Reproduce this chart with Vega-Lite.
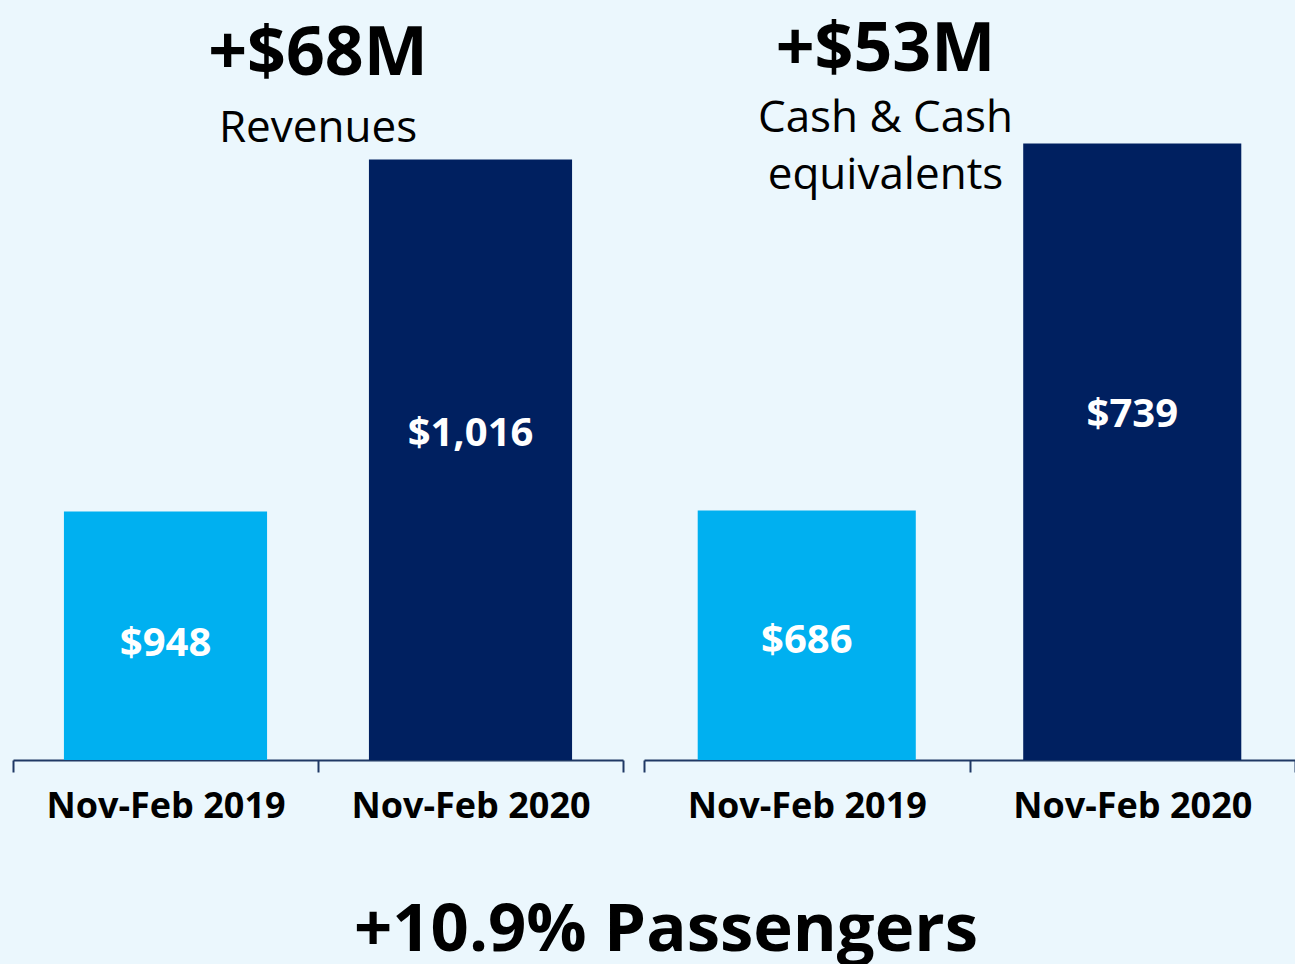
{
  "$schema": "https://vega.github.io/schema/vega-lite/v6.json",
  "background": "#EBF7FD",
  "padding": {"left": 12, "top": 0, "right": 0, "bottom": 0},
  "datasets": {
    "revenue": [
      {"period": "Nov-Feb 2019", "value": 948},
      {"period": "Nov-Feb 2020", "value": 1016}
    ],
    "cash": [
      {"period": "Nov-Feb 2019", "value": 686},
      {"period": "Nov-Feb 2020", "value": 739}
    ]
  },
  "title": {
    "text": "+10.9% Passengers",
    "orient": "bottom",
    "anchor": "middle",
    "offset": 74,
    "dx": 12,
    "fontSize": 67,
    "font": "Open Sans",
    "fontWeight": "bold",
    "color": "#000000",
    "baseline": "top"
  },
  "spacing": 19,
  "config": {
    "view": {"stroke": null},
    "axis": {
      "domainColor": "#1F3864",
      "domainWidth": 2,
      "tickColor": "#1F3864",
      "tickWidth": 2,
      "tickSize": 12,
      "tickBand": "extent",
      "labelFont": "Open Sans",
      "labelFontWeight": "bold",
      "labelFontSize": 36,
      "labelColor": "#000000",
      "labelPadding": 17,
      "labelLimit": 500,
      "labelAngle": 0,
      "title": null,
      "grid": false
    }
  },
  "hconcat": [
    {
      "width": 610,
      "height": 760,
      "data": {"name": "revenue"},
      "title": {
        "text": "+$68M",
        "subtitle": "Revenues",
        "anchor": "middle",
        "offset": -151,
        "font": "Open Sans",
        "fontWeight": "bold",
        "fontSize": 68,
        "color": "#000000",
        "subtitleFont": "Open Sans",
        "subtitleFontSize": 44,
        "subtitleColor": "#000000",
        "subtitlePadding": 18
      },
      "encoding": {
        "x": {
          "field": "period",
          "type": "nominal",
          "sort": null,
          "scale": {"paddingInner": 0, "paddingOuter": 0},
          "axis": {}
        },
        "y": {
          "field": "value",
          "type": "quantitative",
          "scale": {"domain": [900, 1046.8], "zero": false, "nice": false, "clamp": true},
          "axis": null
        }
      },
      "layer": [
        {
          "mark": {"type": "bar", "width": {"band": 0.666}},
          "encoding": {
            "color": {
              "field": "period",
              "type": "nominal",
              "scale": {"domain": ["Nov-Feb 2019", "Nov-Feb 2020"], "range": ["#00B0F0", "#002060"]},
              "legend": null
            }
          }
        },
        {
          "transform": [{"filter": "datum.period === 'Nov-Feb 2019'"}],
          "mark": {"type": "text", "dy": 133, "font": "Open Sans", "fontWeight": "bold", "fontSize": 40, "color": "#FFFFFF", "baseline": "middle"},
          "encoding": {"text": {"field": "value", "type": "quantitative", "format": "$,.0f"}}
        },
        {
          "transform": [{"filter": "datum.period === 'Nov-Feb 2020'"}],
          "mark": {"type": "text", "dy": 275, "font": "Open Sans", "fontWeight": "bold", "fontSize": 40, "color": "#FFFFFF", "baseline": "middle"},
          "encoding": {"text": {"field": "value", "type": "quantitative", "format": "$,.0f"}}
        }
      ]
    },
    {
      "width": 651,
      "height": 760,
      "data": {"name": "cash"},
      "title": {
        "text": "+$53M",
        "subtitle": ["Cash & Cash", "equivalents"],
        "anchor": "middle",
        "offset": -198,
        "dx": -84,
        "font": "Open Sans",
        "fontWeight": "bold",
        "fontSize": 68,
        "color": "#000000",
        "subtitleFont": "Open Sans",
        "subtitleFontSize": 44,
        "subtitleLineHeight": 57,
        "subtitleColor": "#000000",
        "subtitlePadding": 12
      },
      "encoding": {
        "x": {
          "field": "period",
          "type": "nominal",
          "sort": null,
          "scale": {"paddingInner": 0, "paddingOuter": 0},
          "axis": {}
        },
        "y": {
          "field": "value",
          "type": "quantitative",
          "scale": {"domain": [650, 759.7], "zero": false, "nice": false, "clamp": true},
          "axis": null
        }
      },
      "layer": [
        {
          "mark": {"type": "bar", "width": {"band": 0.67}},
          "encoding": {
            "color": {
              "field": "period",
              "type": "nominal",
              "scale": {"domain": ["Nov-Feb 2019", "Nov-Feb 2020"], "range": ["#00B0F0", "#002060"]},
              "legend": null
            }
          }
        },
        {
          "transform": [{"filter": "datum.period === 'Nov-Feb 2019'"}],
          "mark": {"type": "text", "dy": 130, "font": "Open Sans", "fontWeight": "bold", "fontSize": 40, "color": "#FFFFFF", "baseline": "middle"},
          "encoding": {"text": {"field": "value", "type": "quantitative", "format": "$,.0f"}}
        },
        {
          "transform": [{"filter": "datum.period === 'Nov-Feb 2020'"}],
          "mark": {"type": "text", "dy": 272, "font": "Open Sans", "fontWeight": "bold", "fontSize": 40, "color": "#FFFFFF", "baseline": "middle"},
          "encoding": {"text": {"field": "value", "type": "quantitative", "format": "$,.0f"}}
        }
      ]
    }
  ],
  "resolve": {"scale": {"color": "shared"}}
}
